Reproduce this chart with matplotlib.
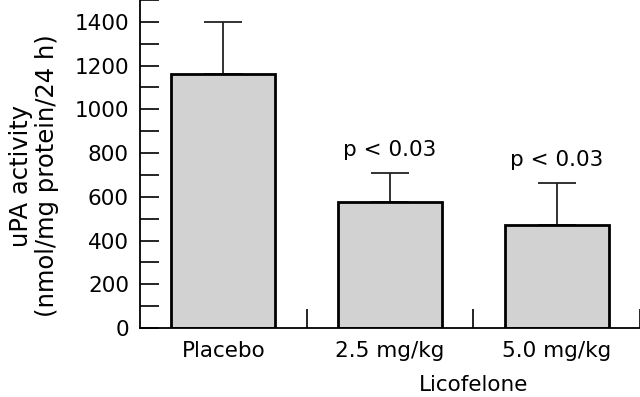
import matplotlib
matplotlib.use("Agg")
import matplotlib.pyplot as plt
from matplotlib.ticker import MultipleLocator

categories = ["Placebo", "2.5 mg/kg", "5.0 mg/kg"]
means = [1160, 575, 470]
errors = [240, 135, 195]
annotations = ["", "p < 0.03", "p < 0.03"]
ylabel = "uPA activity\n(nmol/mg protein/24 h)"
group_label = "Licofelone"

plt.rcParams['font.family'] = ['DejaVu Sans']
FS = 15.5

fig = plt.figure(figsize=(6.4, 3.97), dpi=100)
ax = fig.add_axes([140/640, 1 - 328/397, 500/640, 328/397])

x = list(range(len(categories)))
ax.bar(x, means, width=0.625, color="#d2d2d2", edgecolor="black", linewidth=2, zorder=2)
ax.errorbar(x, means, yerr=[[0]*len(errors), errors], fmt="none", ecolor="#222222",
            elinewidth=1.3, capsize=13.5, capthick=1.3, zorder=1)

for xi, m, e, t in zip(x, means, errors, annotations):
    if t:
        ax.annotate(t, (xi, m + e), xytext=(0, 9), textcoords="offset points",
                    ha="center", va="bottom", fontsize=FS)

ax.set_xlim(-0.5, 2.5)
ax.set_ylim(0, 1500)
ax.set_xticks([0.5, 1.5, 2.5])
ax.set_xticklabels([])
ax.tick_params(axis="x", direction="in", length=14, width=1.2)
for xi, c in zip(x, categories):
    ax.text(xi, -0.07, c, transform=ax.get_xaxis_transform(), ha="center", va="center", fontsize=FS)
ax.text(1.5, -0.175, group_label, transform=ax.get_xaxis_transform(), ha="center", va="center", fontsize=FS)

ax.yaxis.set_minor_locator(MultipleLocator(100))
ax.set_yticks([0, 200, 400, 600, 800, 1000, 1200, 1400])
ax.tick_params(axis="y", which="both", direction="in", length=14, width=1.2, labelsize=FS, pad=8)

fig.text(34/640, 1 - 176/397, ylabel, rotation=90, ha="center", va="center",
         fontsize=17.5, linespacing=1.15, multialignment="center")

for s in ["top", "right"]:
    ax.spines[s].set_visible(False)
for s in ["left", "bottom"]:
    ax.spines[s].set_linewidth(1.3)

fig.savefig("out.png", dpi=100)
